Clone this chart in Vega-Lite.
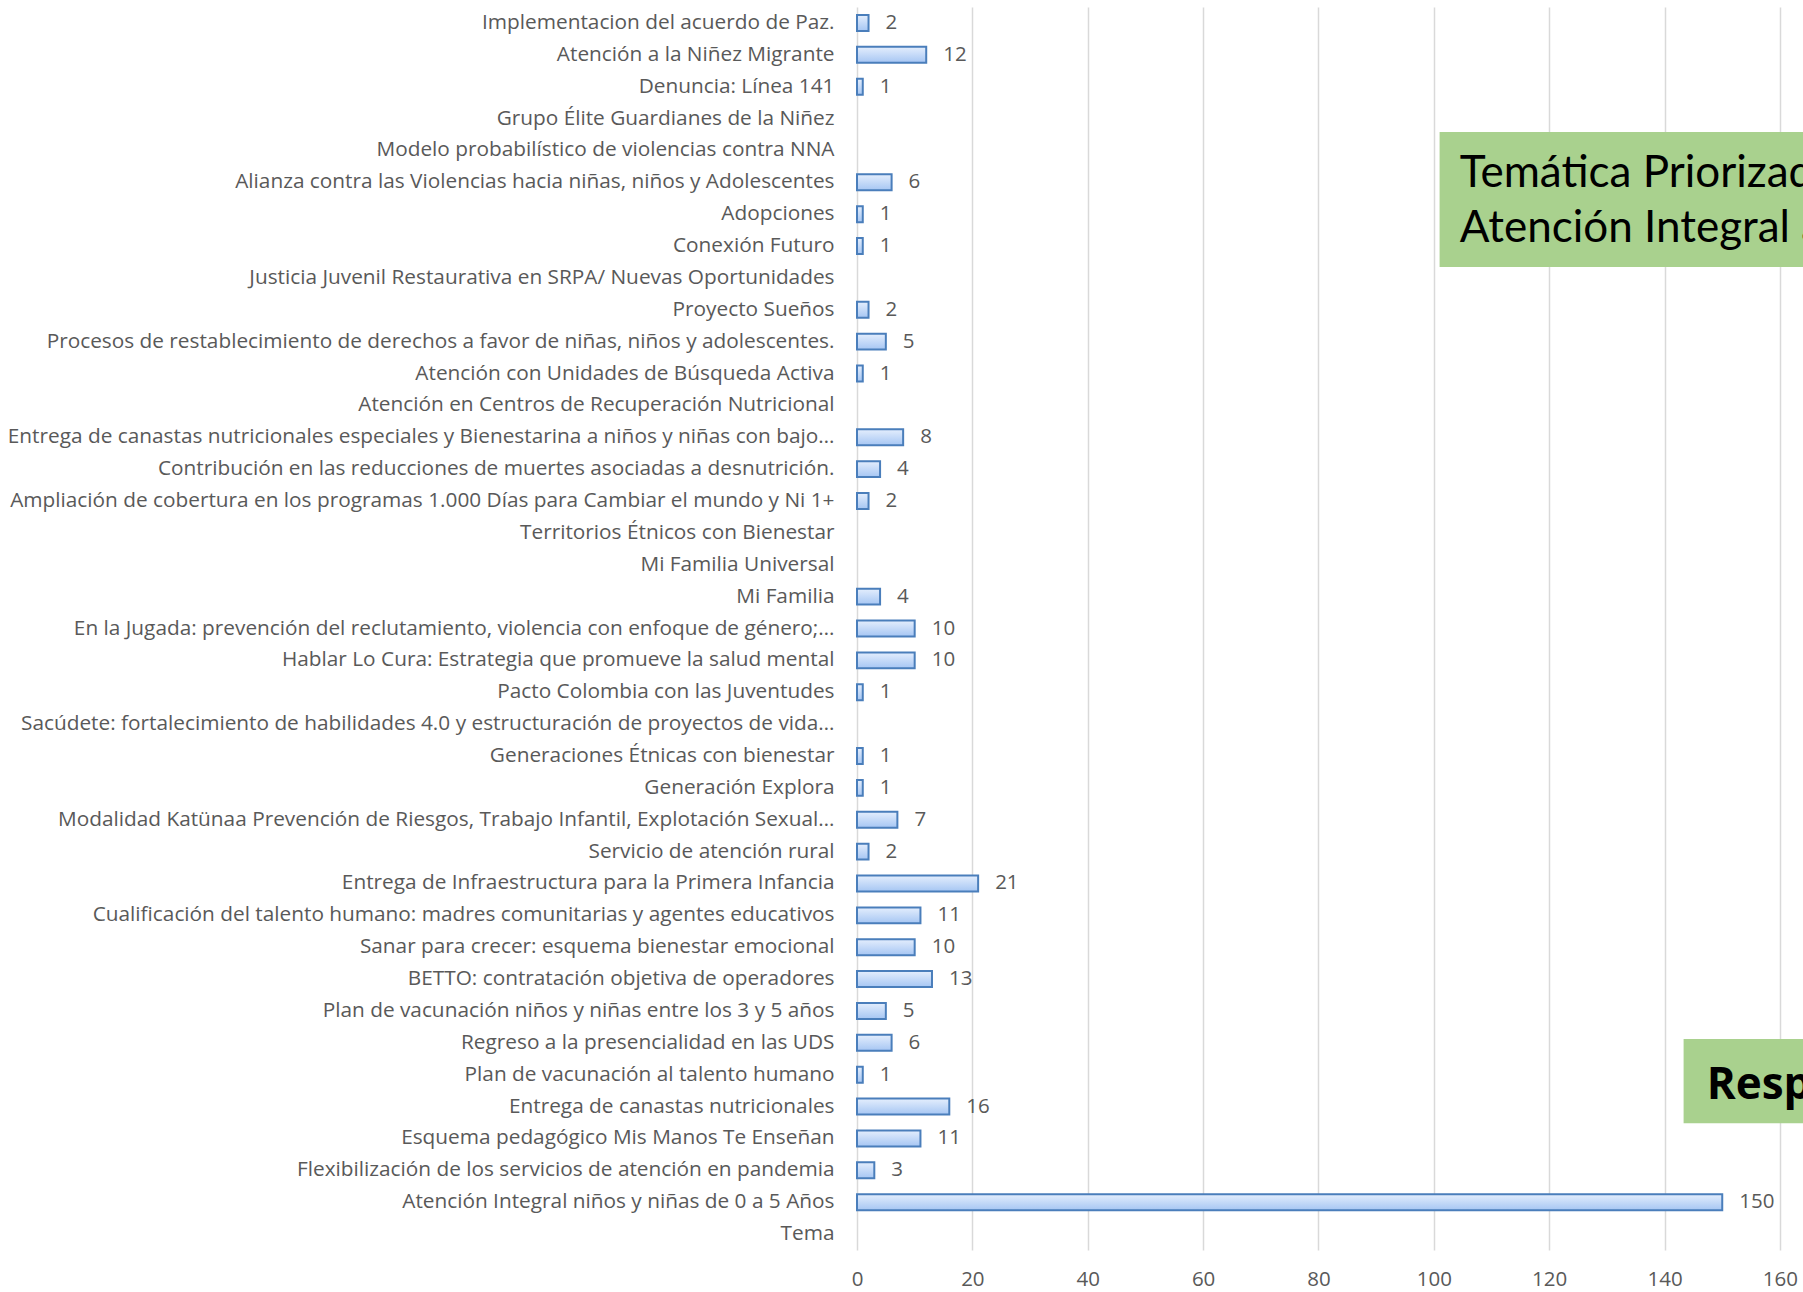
{
  "$schema": "https://vega.github.io/schema/vega-lite/v6.json",
  "autosize": {"type": "none"},
  "padding": {"left": 857, "top": 7, "right": 0, "bottom": 42},
  "width": 946,
  "height": 1243,
  "background": "white",
  "config": {"view": {"stroke": null}, "font": "Open Sans"},
  "datasets": {
    "temas": [
      {"tema": "Implementacion del acuerdo de Paz.", "valor": 2},
      {"tema": "Atención a la Niñez Migrante", "valor": 12},
      {"tema": "Denuncia: Línea 141", "valor": 1},
      {"tema": "Grupo Élite Guardianes de la Niñez", "valor": null},
      {"tema": "Modelo probabilístico de violencias contra NNA", "valor": null},
      {"tema": "Alianza contra las Violencias hacia niñas, niños y Adolescentes", "valor": 6},
      {"tema": "Adopciones", "valor": 1},
      {"tema": "Conexión Futuro", "valor": 1},
      {"tema": "Justicia Juvenil Restaurativa en SRPA/ Nuevas Oportunidades", "valor": null},
      {"tema": "Proyecto Sueños", "valor": 2},
      {"tema": "Procesos de restablecimiento de derechos a favor de niñas, niños y adolescentes.", "valor": 5},
      {"tema": "Atención con Unidades de Búsqueda Activa", "valor": 1},
      {"tema": "Atención en Centros de Recuperación Nutricional", "valor": null},
      {"tema": "Entrega de canastas nutricionales especiales y Bienestarina a niños y niñas con bajo…", "valor": 8},
      {"tema": "Contribución en las reducciones de muertes asociadas a desnutrición.", "valor": 4},
      {"tema": "Ampliación de cobertura en los programas 1.000 Días para Cambiar el mundo y Ni 1+", "valor": 2},
      {"tema": "Territorios Étnicos con Bienestar", "valor": null},
      {"tema": "Mi Familia Universal", "valor": null},
      {"tema": "Mi Familia", "valor": 4},
      {"tema": "En la Jugada: prevención del reclutamiento, violencia con enfoque de género;…", "valor": 10},
      {"tema": "Hablar Lo Cura: Estrategia que promueve la salud mental", "valor": 10},
      {"tema": "Pacto Colombia con las Juventudes", "valor": 1},
      {"tema": "Sacúdete: fortalecimiento de habilidades 4.0 y estructuración de proyectos de vida…", "valor": null},
      {"tema": "Generaciones Étnicas con bienestar", "valor": 1},
      {"tema": "Generación Explora", "valor": 1},
      {"tema": "Modalidad Katünaa  Prevención de Riesgos, Trabajo Infantil, Explotación Sexual…", "valor": 7},
      {"tema": "Servicio de atención rural", "valor": 2},
      {"tema": "Entrega de Infraestructura para la Primera Infancia", "valor": 21},
      {"tema": "Cualificación del talento humano: madres comunitarias y agentes educativos", "valor": 11},
      {"tema": "Sanar para crecer: esquema bienestar emocional", "valor": 10},
      {"tema": "BETTO: contratación objetiva de operadores", "valor": 13},
      {"tema": "Plan de vacunación niños y niñas entre los 3 y 5 años", "valor": 5},
      {"tema": "Regreso a la presencialidad en las UDS", "valor": 6},
      {"tema": "Plan de vacunación al talento humano", "valor": 1},
      {"tema": "Entrega de canastas nutricionales", "valor": 16},
      {"tema": "Esquema pedagógico Mis Manos Te Enseñan", "valor": 11},
      {"tema": "Flexibilización de los servicios de atención en pandemia", "valor": 3},
      {"tema": "Atención Integral niños y niñas de 0 a 5 Años", "valor": 150},
      {"tema": "Tema", "valor": null}
    ],
    "cajas": [
      {"x0": 101.0, "x1": 164, "r0": 3.92, "r1": 8.16},
      {"x0": 143.3, "x1": 164, "r0": 32.38, "r1": 35.02}
    ],
    "titulo": [
      {"tx": 104.5, "ty": 5.65, "texto": "Temática Priorizada\nAtención Integral a la Primera Infancia"}
    ],
    "respuesta": [
      {"tx": 147.3, "ty": 34.26, "texto": "Respuesta"}
    ]
  },
  "resolve": {"scale": {"y": "independent"}},
  "layer": [
    {
      "data": {"name": "temas"},
      "encoding": {
        "y": {
          "field": "tema",
          "type": "nominal",
          "scale": {
            "paddingInner": 0.5,
            "paddingOuter": 0.25,
            "domain": [
              "Implementacion del acuerdo de Paz.",
              "Atención a la Niñez Migrante",
              "Denuncia: Línea 141",
              "Grupo Élite Guardianes de la Niñez",
              "Modelo probabilístico de violencias contra NNA",
              "Alianza contra las Violencias hacia niñas, niños y Adolescentes",
              "Adopciones",
              "Conexión Futuro",
              "Justicia Juvenil Restaurativa en SRPA/ Nuevas Oportunidades",
              "Proyecto Sueños",
              "Procesos de restablecimiento de derechos a favor de niñas, niños y adolescentes.",
              "Atención con Unidades de Búsqueda Activa",
              "Atención en Centros de Recuperación Nutricional",
              "Entrega de canastas nutricionales especiales y Bienestarina a niños y niñas con bajo…",
              "Contribución en las reducciones de muertes asociadas a desnutrición.",
              "Ampliación de cobertura en los programas 1.000 Días para Cambiar el mundo y Ni 1+",
              "Territorios Étnicos con Bienestar",
              "Mi Familia Universal",
              "Mi Familia",
              "En la Jugada: prevención del reclutamiento, violencia con enfoque de género;…",
              "Hablar Lo Cura: Estrategia que promueve la salud mental",
              "Pacto Colombia con las Juventudes",
              "Sacúdete: fortalecimiento de habilidades 4.0 y estructuración de proyectos de vida…",
              "Generaciones Étnicas con bienestar",
              "Generación Explora",
              "Modalidad Katünaa  Prevención de Riesgos, Trabajo Infantil, Explotación Sexual…",
              "Servicio de atención rural",
              "Entrega de Infraestructura para la Primera Infancia",
              "Cualificación del talento humano: madres comunitarias y agentes educativos",
              "Sanar para crecer: esquema bienestar emocional",
              "BETTO: contratación objetiva de operadores",
              "Plan de vacunación niños y niñas entre los 3 y 5 años",
              "Regreso a la presencialidad en las UDS",
              "Plan de vacunación al talento humano",
              "Entrega de canastas nutricionales",
              "Esquema pedagógico Mis Manos Te Enseñan",
              "Flexibilización de los servicios de atención en pandemia",
              "Atención Integral niños y niñas de 0 a 5 Años",
              "Tema"
            ]
          },
          "axis": {
            "title": null,
            "domain": false,
            "ticks": false,
            "grid": false,
            "labelFont": "Open Sans",
            "labelFontSize": 20.8,
            "labelColor": "#595959",
            "labelPadding": 23,
            "labelLimit": 1000
          }
        }
      },
      "layer": [
        {
          "mark": {
            "type": "bar",
            "stroke": "#4a7ebb",
            "strokeWidth": 2,
            "color": {
              "gradient": "linear",
              "x1": 0, "y1": 0, "x2": 0, "y2": 1,
              "stops": [
                {"offset": 0, "color": "#e4eefd"},
                {"offset": 1, "color": "#a6c6f3"}
              ]
            }
          },
          "encoding": {
            "x": {
              "field": "valor",
              "type": "quantitative",
              "scale": {"domain": [0, 164], "nice": false, "zero": true},
              "axis": {
                "title": null,
                "values": [0, 20, 40, 60, 80, 100, 120, 140, 160],
                "grid": true,
                "gridColor": "#d9d9d9",
                "gridWidth": 1.5,
                "domain": false,
                "ticks": false,
                "labelFlush": false,
                "labelFont": "Open Sans",
                "labelFontSize": 20.5,
                "labelColor": "#595959",
                "labelPadding": 19
              }
            }
          }
        },
        {
          "transform": [{"filter": "datum.valor != null"}],
          "mark": {
            "type": "text",
            "align": "left",
            "baseline": "middle",
            "dx": 17,
            "font": "Open Sans",
            "fontSize": 20.5,
            "color": "#595959"
          },
          "encoding": {
            "x": {"field": "valor", "type": "quantitative"},
            "text": {"field": "valor", "type": "quantitative"}
          }
        }
      ]
    },
    {
      "encoding": {},
      "layer": [
        {
          "data": {"name": "cajas"},
          "mark": {"type": "rect", "color": "#a9d18e", "clip": true},
          "encoding": {
            "x": {"field": "x0", "type": "quantitative"},
            "x2": {"field": "x1"},
            "y": {"field": "r0", "type": "quantitative", "scale": {"domain": [0, 39], "reverse": true, "nice": false}, "axis": null},
            "y2": {"field": "r1"}
          }
        },
        {
          "data": {"name": "titulo"},
          "mark": {
            "type": "text",
            "align": "left",
            "baseline": "alphabetic",
            "font": "Lato",
            "fontSize": 44,
            "lineBreak": "\n",
            "lineHeight": 55,
            "color": "#000000",
            "clip": true
          },
          "encoding": {
            "x": {"field": "tx", "type": "quantitative"},
            "y": {"field": "ty", "type": "quantitative", "scale": {"domain": [0, 39], "reverse": true, "nice": false}, "axis": null},
            "text": {"field": "texto"}
          }
        },
        {
          "data": {"name": "respuesta"},
          "mark": {
            "type": "text",
            "align": "left",
            "baseline": "alphabetic",
            "font": "Open Sans",
            "fontWeight": "bold",
            "fontSize": 44,
            "color": "#000000",
            "clip": true
          },
          "encoding": {
            "x": {"field": "tx", "type": "quantitative"},
            "y": {"field": "ty", "type": "quantitative", "scale": {"domain": [0, 39], "reverse": true, "nice": false}, "axis": null},
            "text": {"field": "texto"}
          }
        }
      ]
    }
  ]
}
